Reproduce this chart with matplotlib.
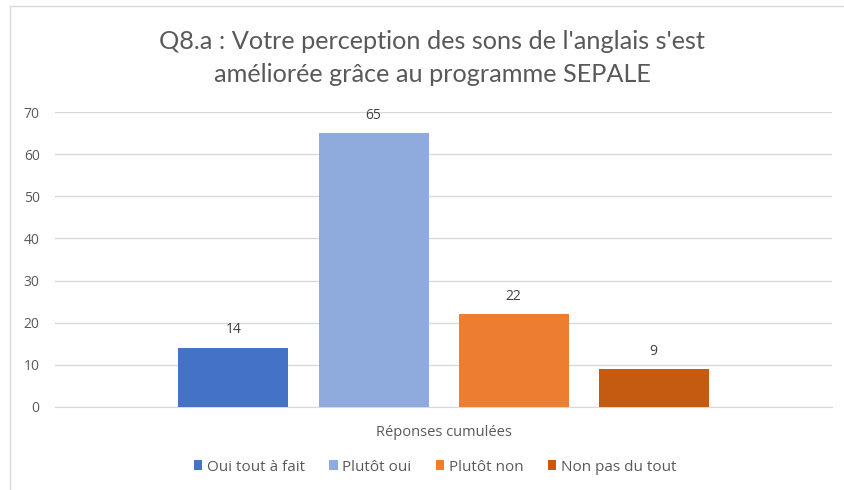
import numpy as np
import matplotlib.pyplot as plt
from matplotlib.lines import Line2D

categories = ["Oui tout à fait", "Plutôt oui", "Plutôt non", "Non pas du tout"]
values = [14, 65, 22, 9]
colors = ["#4472C4", "#8FAADC", "#ED7D31", "#C55A11"]
group_label = "Réponses cumulées"
title = "Q8.a : Votre perception des sons de l'anglais s'est\naméliorée grâce au programme SEPALE"

plt.rcParams['font.family'] = ['Open Sans', 'DejaVu Sans']

fig = plt.figure(figsize=(8.44, 4.9), dpi=100)
fig.set_facecolor("white")
ax = fig.add_axes([55 / 844, 1 - 407 / 490, 777 / 844, 295 / 490])

# cadre du graphique (bords gauche et haut)
fig.add_artist(Line2D([10 / 844, 10 / 844], [0, 1 - 6 / 490], transform=fig.transFigure,
                      color="#D9D9D9", lw=1))
fig.add_artist(Line2D([10 / 844, 1], [1 - 6 / 490, 1 - 6 / 490], transform=fig.transFigure,
                      color="#D9D9D9", lw=1))

n = len(values)
x = np.arange(n) - (n - 1) / 2
width = 110 / 140
bars = ax.bar(x, values, width=width, color=colors, label=categories, zorder=3)

for b, v in zip(bars, values):
    ax.text(b.get_x() + b.get_width() / 2, v + 2.5, str(v), ha="center", va="bottom",
            fontsize=10, color="#404040")

ax.set_xlim(-388.5 / 140, 388.5 / 140)
ax.set_ylim(0, 70)
ax.set_yticks(np.arange(0, 71, 10))
ax.set_xticks([0])
ax.set_xticklabels([group_label])
ax.tick_params(axis="both", length=0, labelsize=10, colors="#595959")
ax.tick_params(axis="x", pad=13, labelsize=10.5)
ax.tick_params(axis="y", pad=11)

ax.grid(True, axis="y", color="#D9D9D9", lw=1)
ax.set_axisbelow(True)
for s in ["top", "right", "left"]:
    ax.spines[s].set_visible(False)
ax.spines["bottom"].set_color("#D9D9D9")

fig.text(432 / 844, 1 - 58 / 490, title, ha="center", va="center", fontsize=18.2,
         color="#595959", linespacing=1.5, family=['Lato', 'DejaVu Sans'])

fig.legend(handles=bars, labels=categories, loc="center", bbox_to_anchor=(435 / 844, 1 - 467 / 490),
           ncol=4, frameon=False, fontsize=11, handlelength=0.55, handleheight=0.55,
           handletextpad=0.3, columnspacing=1.6, labelcolor="#595959")

fig.savefig("out.png", dpi=100)
